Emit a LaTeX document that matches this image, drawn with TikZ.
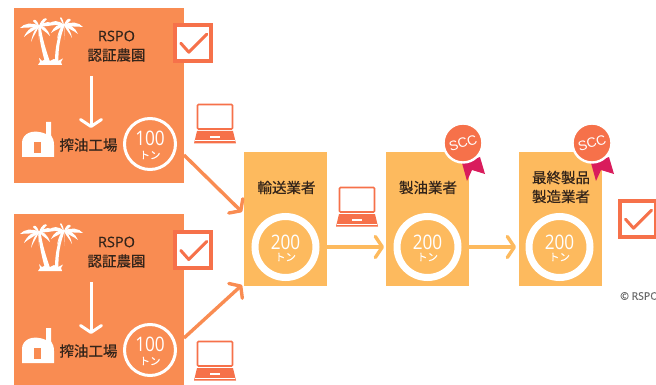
\documentclass[tikz,border=0pt]{standalone}
\usepackage{fontspec}
\setmainfont{Noto Sans CJK JP}
\newfontfamily\jpmed[FakeBold=0.5]{Noto Sans CJK JP}
\newfontfamily\numfont[FakeStretch=0.86]{Open Sans}
\newfontfamily\latinfont[FakeBold=0.3]{Open Sans}
\newfontfamily\sccfont{Liberation Sans}
\usetikzlibrary{arrows.meta}
\definecolor{farmorange}{HTML}{F98C52}
\definecolor{boxyellow}{HTML}{FDBA5E}
\definecolor{markorange}{HTML}{F6714A}
\definecolor{ribboncrimson}{HTML}{D91C5C}
\definecolor{labelbrown}{HTML}{33241A}
\newcommand{\palmfrond}[2]{
  \fill[white] (0,0) .. controls (#1*.35,#2*.35-5) and (#1*.8,#2*.7-4) .. (#1,#2)
    .. controls (#1*.7,#2*.6) and (#1*.3,#2*.3+1.5) .. (0,0);
}
\tikzset{
  farmbox/.style   = {shape=rectangle, fill=farmorange, inner sep=0pt, outer sep=0pt,
                      minimum width=170pt},
  buyerbox/.style  = {shape=rectangle, fill=boxyellow, inner sep=0pt, outer sep=0pt,
                      minimum width=83pt, minimum height=134pt},
  tonring/.style   = {shape=circle, draw=white, inner sep=0pt, outer sep=0pt,
                      line width=3pt, minimum size=51pt},
  bigring/.style   = {shape=circle, draw=white, inner sep=0pt, outer sep=0pt,
                      line width=7pt, minimum size=61pt},
  jplabel/.style   = {font=\fontsize{14.5}{18}\selectfont\jpmed, text=labelbrown,
                      align=center, inner sep=0pt},
  latinlabel/.style= {font=\fontsize{14.5}{18}\selectfont\latinfont, text=labelbrown, inner sep=0pt},
  tonnumber/.style = {font=\fontsize{20}{21}\selectfont\numfont, text=white, inner sep=0pt},
  tonunit/.style   = {font=\fontsize{10.5}{11}\selectfont\jpmed, text=white, inner sep=0pt},
  scclabel/.style  = {font=\fontsize{13.5}{14}\selectfont\sccfont, text=white, rotate=16, inner sep=0pt},
  whitearrow/.style= {draw=white, line width=3pt,
                      -{Straight Barb[length=7pt,width=21pt,line width=3pt,round]}},
  farmarrow/.style = {draw=farmorange, line width=3.4pt,
                      -{Straight Barb[length=7pt,width=20pt,line width=3.4pt,round]}},
  yellowarrow/.style = {draw=boxyellow, line width=3.4pt,
                      -{Straight Barb[length=7pt,width=21pt,line width=3.4pt,round]}},
  palmleft/.pic = {
    \foreach \tipx/\tipy in {-19/2, -15/11, -8/16, -1/14, 11/10, 16/-1, 8/-7, -6/-5} {
      \palmfrond{\tipx}{\tipy}
    }
    \fill[white] (-1,-1) .. controls (0,12) and (3,26) .. (6,36)
      -- (11,36) .. controls (7,24) and (3,12) .. (1.5,-1) -- cycle;
  },
  palmright/.pic = {
    \foreach \tipx/\tipy in {-13/8, -15/-1, -4/-7, 7/-5, 19/2, 14/9, 8/13, 1/15, -7/14} {
      \palmfrond{\tipx}{\tipy}
    }
    \fill[white] (-1.5,-1) .. controls (-6,10) and (-9,22) .. (-9,36)
      -- (-5.5,36) .. controls (-6,22) and (-3,10) .. (1,-1) -- cycle;
  },
  kiln/.pic = {
    \fill[white] (0,0) -- (0,-14) .. controls (0,-23) and (10,-29) .. (24,-23)
      -- (24,-35) -- (29,-35) -- (29,-22) .. controls (31,-19) and (32,-16) .. (32,-12)
      -- (32,0) -- cycle;
    \fill[farmorange] (12,-15) rectangle (19,-4);
  },
  laptop/.pic = {
    \draw[markorange, line width=1.7pt, rounded corners=1pt, fill=white]
      (-17.5,-19.5) rectangle (17.5,5);
    \fill[markorange] (-18,7) -- (18,7) -- (21,19.5) -- (-21,19.5) -- cycle;
    \fill[white] (-5,12) rectangle (5,14);
    \fill[white] (-20,16.5) rectangle (20,17.3);
  },
  checkmark/.pic = {
    \draw[markorange, line width=4pt, fill=white] (-18,-18) rectangle (18,18);
    \draw[markorange, line width=3pt, line cap=round, line join=round]
      (-12.5,0.5) -- (-4.5,9.5) -- (13.5,-8.5);
  },
  sccbadge/.pic = {
    \fill[ribboncrimson] (-1,20) -- (4,38) -- (9,27) -- (22,31) -- (17,14) -- cycle;
    \fill[markorange, draw=white, line width=2.4pt] (0,0) circle (19.5pt);
  }
}
\begin{document}
\begin{tikzpicture}[x=1pt,y=-1pt]
  \useasboundingbox (0,0) rectangle (656,385);
  % farms
  \foreach \n/\y/\h in {1/0/175, 2/206/171} {
    \node[farmbox, minimum height=\h pt, anchor=north west] (farm\n) at (14,8+\y) {};
    \path (39,26+\y) pic {palmleft};
    \path (64,25+\y) pic {palmright};
    \fill[white] (38,65+\y) -- (62,65+\y) -- (61,62+\y) -- (63,58.5+\y) -- (58,61+\y) -- (54,59+\y)
      -- (50,61+\y) -- (46,59+\y) -- (42,61+\y) -- (39,58+\y) -- (40,62+\y) -- cycle;
    \node[latinlabel] (rspo\n) at (116.5,36+\y) {RSPO};
    \node[jplabel] (plantation\n) at (116.5,55+\y) {認証農園};
    \path (22,157+\y) pic {kiln};
    \node[jplabel] (mill\n) at (88.5,145+\y) {搾油工場};
    \node[tonring] (ton\n) at (150,144+\y) {};
    \node[tonnumber] (tonnum\n) at (150,138+\y) {100};
    \node[tonunit] (tonunit\n) at (150,155+\y) {トン};
    \coordinate (palm\n) at (91,76+\y);
    \coordinate (kiln\n) at (91,128+\y);
    \draw[whitearrow] (palm\n) -- (kiln\n);
  }
  \path (193.3,42.7) pic {checkmark};
  \path (193.3,250) pic {checkmark};
  \path (215,124) pic {laptop};
  \path (215,361) pic {laptop};
  % buyers
  \node[buyerbox] (transport) at (285.5,219) {};
  \node[buyerbox] (refinery)  at (427.5,219) {};
  \node[buyerbox] (maker)     at (560.5,219) {};
  \node[jplabel] (transportname) at (286.5,187.5) {輸送業者};
  \node[jplabel] (refineryname)  at (428,187.5) {製油業者};
  \node[jplabel, font=\fontsize{14.5}{19}\selectfont\jpmed] (makername) at (561,187) {最終製品\\製造業者};
  \foreach \b/\x in {transport/285.5, refinery/427.5, maker/559.5} {
    \node[bigring] (\b ring) at (\x,247) {};
    \node[tonnumber] (\b num) at (\x,242) {200};
    \node[tonunit] (\b unit) at (\x,257) {トン};
  }
  \path (357,207) pic {laptop};
  \path (463,143) pic {sccbadge};
  \path (592,143) pic {sccbadge};
  \node[scclabel] (scca) at (463,143) {SCC};
  \node[scclabel] (sccb) at (592,143) {SCC};
  \path (638,218.7) pic {checkmark};
  \node[font=\fontsize{10.5}{12}\selectfont\latinfont, text=black!60, anchor=west, inner sep=0pt] (credit) at (620,296) {© RSPO};
  % flows
  \coordinate (outa) at (184,155);
  \coordinate (outb) at (184,338);
  \coordinate (ina) at (242,212);
  \coordinate (inb) at (242,285);
  \draw[farmarrow] (outa) -- (ina);
  \draw[farmarrow] (outb) -- (inb);
  \draw[yellowarrow] (transportring -| transport.east) -- ([xshift=-2pt]refinery.west |- refineryring);
  \draw[yellowarrow] (refineryring -| refinery.east) -- ([xshift=-3pt]maker.west |- makerring);
\end{tikzpicture}
\end{document}
